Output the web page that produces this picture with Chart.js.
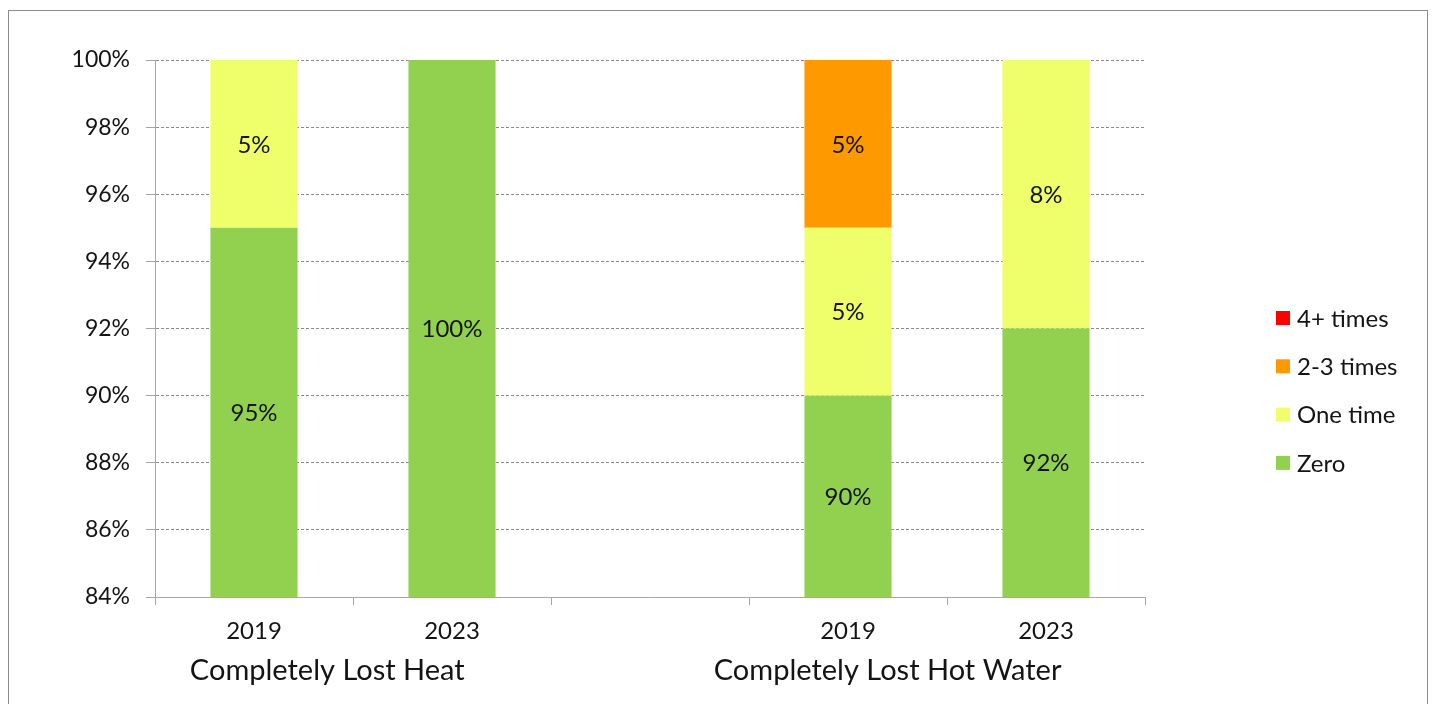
<!DOCTYPE html>
<html>
<head>
<meta charset="utf-8">
<script src="https://cdn.jsdelivr.net/npm/chart.js@4.4.0/dist/chart.umd.min.js"></script>
<style>
  html, body { margin: 0; padding: 0; background: #fff; }
  #wrap { width: 1435px; height: 704px; position: relative; }
</style>
</head>
<body>
<div id="wrap"><canvas id="chart"></canvas></div>
<script>
// data
var years = ["2019", "2023", "", "2019", "2023"];
var groups = ["Completely Lost Heat", "Completely Lost Hot Water"];
var groupAt = [0.37, 3.2]; // category index under which each group title sits
var zero = [95, 100, null, 90, 92];
var oneTime = [5, 0, null, 5, 8];
var twoThree = [0, 0, null, 5, 0];
var fourPlus = [0, 0, null, 0, 0];
var yMin = 84, yMax = 100, yStep = 2;

var FONT = "Lato, 'Open Sans', sans-serif";
var INK = "#141414";

var datasets = [
  { label: "Zero", data: zero, backgroundColor: "#92D050" },
  { label: "One time", data: oneTime, backgroundColor: "#EFFF6B" },
  { label: "2-3 times", data: twoThree, backgroundColor: "#FF9900" },
  { label: "4+ times", data: fourPlus, backgroundColor: "#FF0000" }
];

// outer frame, value labels, group titles and legend
var extras = {
  id: "extras",
  beforeDraw: function(chart) {
    var c = chart.ctx;
    c.save();
    c.fillStyle = "#fff";
    c.fillRect(0, 0, chart.width, chart.height);
    c.strokeStyle = "#8c8c8c";
    c.lineWidth = 1;
    c.strokeRect(8.5, 10.5, 1419, 720);
    c.restore();
  },
  afterDatasetsDraw: function(chart) {
    var c = chart.ctx, y = chart.scales.y;
    c.save();
    c.fillStyle = INK;
    c.font = "24px " + FONT;
    c.textAlign = "center";
    c.textBaseline = "middle";
    chart.data.datasets.forEach(function(ds, di) {
      var meta = chart.getDatasetMeta(di);
      ds.data.forEach(function(v, i) {
        if (v == null || v <= 0) return;
        var start = 0;
        for (var k = 0; k < di; k++) start += chart.data.datasets[k].data[i] || 0;
        var lo = Math.max(start, yMin), hi = Math.min(start + v, yMax);
        if (hi > lo) {
          c.fillText(v + "%", meta.data[i].x, y.getPixelForValue((lo + hi) / 2) + 1);
        }
      });
    });
    c.restore();
  },
  afterDraw: function(chart) {
    var c = chart.ctx, x = chart.scales.x, area = chart.chartArea;
    var p0 = x.getPixelForValue(0), step = x.getPixelForValue(1) - p0;
    c.save();
    c.fillStyle = INK;
    c.font = "29px " + FONT;
    c.textAlign = "center";
    c.textBaseline = "middle";
    groups.forEach(function(g, i) {
      c.fillText(g, p0 + groupAt[i] * step, area.bottom + 74);
    });
    // legend, reversed order like the original
    c.font = "24px " + FONT;
    c.textAlign = "left";
    var lx = area.right + 131;
    var ly0 = 318, gap = 48.3;
    for (var j = datasets.length - 1, n = 0; j >= 0; j--, n++) {
      var ly = ly0 + n * gap;
      c.fillStyle = datasets[j].backgroundColor;
      c.fillRect(lx, ly - 7, 14, 14);
      c.fillStyle = INK;
      c.fillText(datasets[j].label, lx + 21, ly + 1);
    }
    c.restore();
  }
};

var ctx = document.getElementById("chart").getContext("2d");
window.bar = new Chart(ctx, {
  type: "bar",
  data: { labels: years, datasets: datasets },
  plugins: [extras],
  options: {
    responsive: true,
    maintainAspectRatio: false,
    animation: false,
    events: [],
    layout: { padding: { top: 60, right: 290, left: 0, bottom: 0 } },
    datasets: { bar: { barPercentage: 0.44, categoryPercentage: 1 } },
    plugins: { legend: { display: false }, tooltip: { enabled: false } },
    scales: {
      x: {
        stacked: true,
        afterFit: function(s) { s.height = 107; },
        grid: { offset: true, drawOnChartArea: false, tickLength: 8, color: "#a6a6a6" },
        border: { color: "#a6a6a6" },
        ticks: { color: INK, font: { family: FONT, size: 24 }, padding: 12, maxRotation: 0 }
      },
      y: {
        stacked: true,
        min: yMin,
        max: yMax,
        afterFit: function(s) { s.width = 155; },
        grid: { color: "#8a8a8a", tickBorderDash: [], tickLength: 9, tickColor: "#a6a6a6" },
        border: { color: "#a6a6a6", dash: [3, 2] },
        ticks: {
          stepSize: yStep,
          color: INK,
          padding: 16,
          font: { family: FONT, size: 23 },
          callback: function(v) { return v + "%"; }
        }
      }
    }
  }
});
</script>
</body>
</html>
